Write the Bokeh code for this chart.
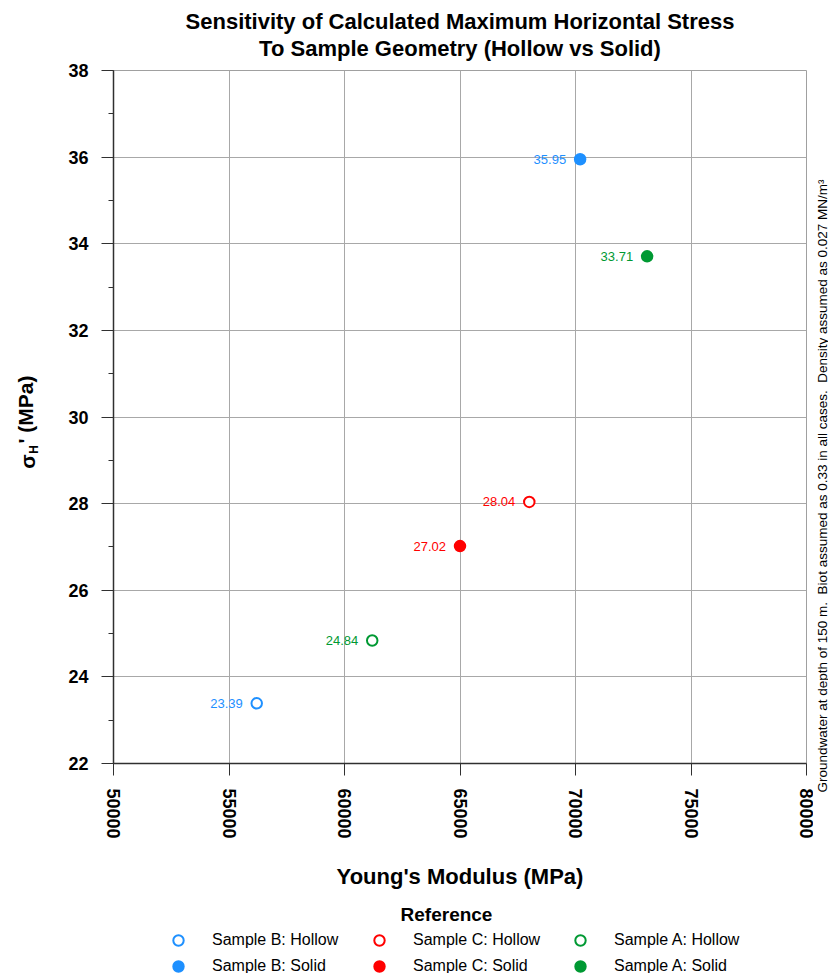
import math
from bokeh.plotting import figure
from bokeh.layouts import column, row
from bokeh.models import (ColumnDataSource, SingleIntervalTicker, Legend,
                          LegendItem, Title, BasicTickFormatter)
from bokeh.core.properties import value
from bokeh.embed import file_html
from bokeh.resources import INLINE

# ---- data ----
series_names = ["Sample B: Hollow", "Sample B: Solid",
                "Sample C: Hollow", "Sample C: Solid",
                "Sample A: Hollow", "Sample A: Solid"]
youngs_modulus = [56200, 70200, 68000, 65000, 61200, 73100]
stress_values = [23.39, 35.95, 28.04, 27.02, 24.84, 33.71]
series_colors = ["#1E90FF", "#1E90FF", "#FF0000", "#FF0000", "#009933", "#009933"]
series_filled = [False, True, False, True, False, True]
title_lines = ["Sensitivity of Calculated Maximum Horizontal Stress",
               "To Sample Geometry (Hollow vs Solid)"]
note_text = ("Groundwater at depth of 150 m.\u00a0 Biot assumed as 0.33 in all cases."
             "\u00a0 Density assumed as 0.027 MN/m\u00b3")

FONT = "Liberation Sans"
X0, X1 = 50000, 80000
Y0, Y1 = 22, 38

W, H_MAIN, H_LEG = 828, 895, 78
W_LEFT, W_RIGHT = 45, 15
W_MAIN = W - W_LEFT - W_RIGHT
FRAME_L, FRAME_R, FRAME_T, FRAME_B = 113, 806, 70, 763


def strip(width, height, top=0, bottom=0):
    f = figure(width=width, height=height, x_range=(0, width),
               y_range=(0, height - top - bottom),
               min_border=0, min_border_top=top, min_border_bottom=bottom,
               min_border_left=0, min_border_right=0,
               x_axis_type=None, y_axis_type=None,
               output_backend="svg", toolbar_location=None)
    f.outline_line_color = None
    f.grid.visible = False
    return f


# ---------------- main plot ----------------
p = figure(width=W_MAIN, height=H_MAIN, x_range=(X0, X1), y_range=(Y0, Y1),
           output_backend="svg", toolbar_location=None,
           min_border_left=FRAME_L - W_LEFT,
           min_border_right=(W - W_RIGHT) - FRAME_R,
           min_border_top=FRAME_T, min_border_bottom=H_MAIN - FRAME_B)

p.title.text = title_lines[0]
p.title.standoff = -19
t2 = Title(text=title_lines[1], standoff=19)
p.add_layout(t2, "above")
for t in (p.title, t2):
    t.align = "center"
    t.text_font = FONT
    t.text_font_size = "22px"
    t.text_font_style = "bold"
    t.text_color = "black"

p.outline_line_color = "#A0A0A0"
p.grid.grid_line_color = "#A8A8A8"
p.grid.grid_line_width = 1

p.xaxis.ticker = SingleIntervalTicker(interval=5000, num_minor_ticks=0)
p.yaxis.ticker = SingleIntervalTicker(interval=2, num_minor_ticks=2)
p.xaxis.formatter = BasicTickFormatter(use_scientific=False)
for ax in (p.xaxis, p.yaxis):
    ax.axis_line_color = "#303030"
    ax.axis_line_width = 1.5
    ax.major_tick_line_color = "#303030"
    ax.minor_tick_line_color = "#303030"
    ax.major_tick_in = 0
    ax.major_tick_out = 12
    ax.minor_tick_in = 0
    ax.minor_tick_out = 5
    ax.major_label_text_font = FONT
    ax.major_label_text_font_size = "18px"
    ax.major_label_text_font_style = "bold"
    ax.major_label_text_color = "black"
    ax.major_label_standoff = 13
p.xaxis.major_label_orientation = -math.pi / 2
p.xaxis.axis_label = "Young's Modulus (MPa)"
p.xaxis.axis_label_text_font = FONT
p.xaxis.axis_label_text_font_size = "22px"
p.xaxis.axis_label_text_font_style = "bold"
p.xaxis.axis_label_text_color = "black"
p.xaxis.axis_label_standoff = 22

# ---------------- legend strip ----------------
lg = strip(W, H_LEG)
items = []
for name, xv, yv, col, filled in zip(series_names, youngs_modulus, stress_values,
                                      series_colors, series_filled):
    src = ColumnDataSource(dict(x=[xv], y=[yv], t=["%.2f" % yv]))
    style = dict(marker="circle", line_color=col, line_width=2,
                 fill_color=col if filled else "white", fill_alpha=1.0)
    p.scatter("x", "y", source=src, size=10.5, **style)
    p.text("x", "y", text="t", source=src, x_offset=-14, text_align="right",
           text_baseline="middle", text_font_size="13px", text_color=col,
           text_font=value(FONT))
    # same data in the legend strip (outside its view; only feeds the legend)
    r = lg.scatter("x", "y", source=src, size=10.5, **style)
    items.append(LegendItem(label=name, renderers=[r]))

legend = Legend(items=items, orientation="vertical", ncols=3,
                location=(163, -6),
                glyph_width=30, glyph_height=26, label_height=26,
                label_text_font=FONT, label_text_font_size="16px",
                label_text_color="black", label_standoff=19, label_width=152,
                spacing=0, padding=0, margin=0,
                border_line_color=None, background_fill_alpha=0)
lg.add_layout(legend, "center")
lg.text(x=[446], y=[H_LEG - (914 - H_MAIN)], text=["Reference"],
        text_align="center", text_baseline="middle", text_font=value(FONT),
        text_font_size="19px", text_font_style="bold", text_color="black")

# ---------------- left strip: y axis label sigma_H' (MPa) ----------------
lf = strip(W_LEFT, H_MAIN, top=FRAME_T, bottom=H_MAIN - FRAME_B)
lf.text(x=[27], y=[FRAME_B - 461], text=["σ"], angle=math.pi / 2,
        text_align="center", text_baseline="middle", text_font=value(FONT),
        text_font_size="21px", text_font_style="bold", text_color="black")
lf.text(x=[33], y=[FRAME_B - 449], text=["H"], angle=math.pi / 2,
        text_align="center", text_baseline="middle", text_font=value(FONT),
        text_font_size="12px", text_font_style="bold", text_color="black")
lf.text(x=[25], y=[FRAME_B - 443], text=["' (MPa)"], angle=math.pi / 2,
        text_align="left", text_baseline="middle", text_font=value(FONT),
        text_font_size="21px", text_font_style="bold", text_color="black")

# ---------------- right strip: note (side title, reads bottom-to-top) ----------
rf = strip(W_RIGHT, H_MAIN, top=FRAME_T, bottom=H_MAIN - FRAME_B)
note = Title(text=note_text, align="left", offset=-(792 - FRAME_B), standoff=-2,
             vertical_align="bottom", text_font=FONT, text_font_size="13.5px",
             text_font_style="normal", text_color="black")
rf.add_layout(note, "left")

layout = column(row(lf, p, rf, spacing=0), lg, spacing=0)
open("out.html", "w").write(file_html(layout, INLINE))
